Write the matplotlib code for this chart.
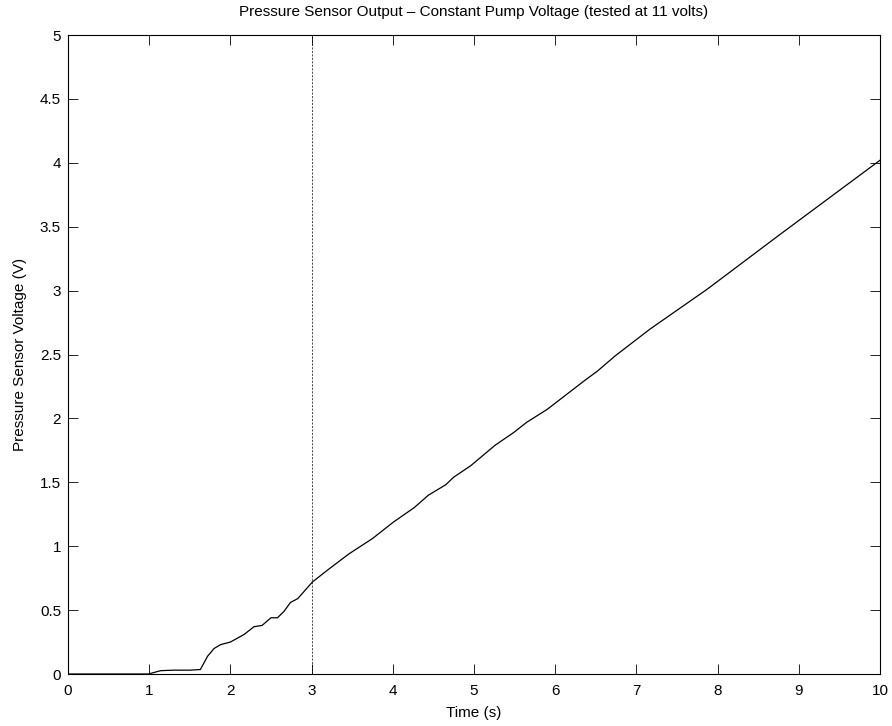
import matplotlib.pyplot as plt
import numpy as np

plt.rcParams['font.family'] = ['Liberation Sans', 'DejaVu Sans']

# sensor output
time_s = [0.0, 0.5, 1.0, 1.02, 1.14, 1.3, 1.5, 1.63, 1.72, 1.8, 1.88, 2.0,
          2.17, 2.29, 2.39, 2.5, 2.58, 2.66, 2.74, 2.83, 3.01, 3.19, 3.46,
          3.75, 4.01, 4.26, 4.44, 4.65, 4.75, 4.96, 5.26, 5.49, 5.65, 5.9,
          6.37, 6.52, 6.74, 7.17, 7.87, 8.77, 10.0]
sensor_v = [0.0, 0.0, 0.0, 0.005, 0.026, 0.03, 0.03, 0.035, 0.14, 0.2, 0.23,
            0.25, 0.31, 0.37, 0.38, 0.44, 0.44, 0.49, 0.56, 0.59, 0.72, 0.81,
            0.94, 1.06, 1.19, 1.30, 1.40, 1.48, 1.54, 1.63, 1.79, 1.89, 1.97,
            2.07, 2.30, 2.37, 2.49, 2.70, 3.01, 3.44, 4.02]
marker_time = 3.0

fig = plt.figure(figsize=(8.92, 7.26), dpi=100)
ax = fig.add_axes([68 / 892, 1 - 674 / 726, (880 - 68) / 892, (674 - 35) / 726])

ax.plot(time_s, sensor_v, color='black', linewidth=0.9)
ax.axvline(marker_time, color='black', linestyle=(0, (3, 2)), linewidth=0.5)

ax.set_xlim(0, 10)
ax.set_ylim(0, 5)
ax.set_xticks(np.arange(0, 11, 1))
ax.set_yticks(np.arange(0, 5.01, 0.5))
ax.set_yticklabels(['0', '0.5', '1', '1.5', '2', '2.5', '3', '3.5', '4', '4.5', '5'])
ax.tick_params(direction='in', top=True, right=True, length=7, width=0.6,
               labelsize=11)
ax.tick_params(axis='x', pad=7)
ax.tick_params(axis='y', pad=5)
for s in ax.spines.values():
    s.set_linewidth(0.8)

ax.set_xlabel('Time (s)', fontsize=11, labelpad=6)
ax.set_ylabel('Pressure Sensor Voltage (V)', fontsize=11, labelpad=9)
ax.set_title('Pressure Sensor Output \u2013 Constant Pump Voltage (tested at 11 volts)',
             fontsize=11, pad=14)

plt.savefig('out.png', dpi=100)
